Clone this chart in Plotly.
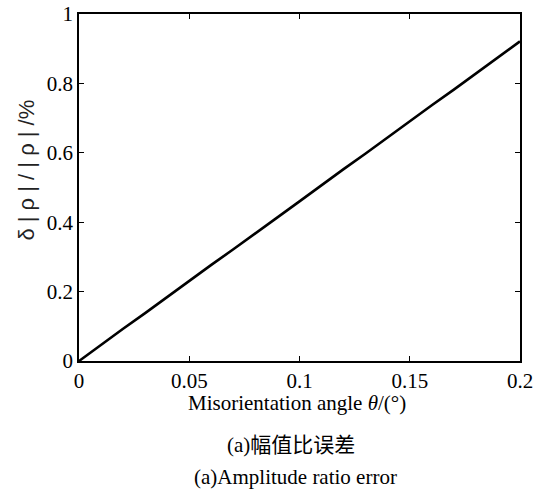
import plotly.graph_objects as go

angle = [0, 0.01, 0.02, 0.03, 0.04, 0.05, 0.06, 0.07, 0.08, 0.09, 0.10,
         0.11, 0.12, 0.13, 0.14, 0.15, 0.16, 0.17, 0.18, 0.19, 0.20]
error = [0, 0.047, 0.093, 0.138, 0.185, 0.230, 0.277, 0.322, 0.369, 0.414, 0.460,
         0.507, 0.553, 0.598, 0.645, 0.690, 0.737, 0.782, 0.829, 0.875, 0.921]
x_ticks = [0, 0.05, 0.1, 0.15, 0.2]
x_labels = ["0", "0.05", "0.1", "0.15", "0.2"]
y_ticks = [0, 0.2, 0.4, 0.6, 0.8, 1]
y_labels = ["0", "0.2", "0.4", "0.6", "0.8", "1"]

W, H = 539, 489
L, R, T, B = 78.5, 520, 14, 361
serif = "Liberation Serif, Times New Roman, serif"

fig = go.Figure()
fig.add_trace(go.Scatter(x=angle, y=error, mode="lines",
                         line=dict(color="black", width=2.6), showlegend=False))

axis_common = dict(showline=True, linecolor="black", linewidth=1.5, mirror="ticks",
                   ticks="inside", ticklen=5, tickwidth=1, tickcolor="black",
                   showgrid=False, zeroline=False, automargin=False,
                   tickfont=dict(family=serif, size=21, color="black"))
fig.update_xaxes(range=[0, 0.2], tickvals=x_ticks, ticktext=x_labels, **axis_common)
fig.update_yaxes(range=[0, 1], tickvals=y_ticks, ticktext=y_labels, **axis_common)

def px_x(p):
    return (p - L) / (R - L)

def px_y(p):
    return (B - p) / (B - T)

fig.add_annotation(x=px_x(25), y=px_y(170), xref="paper", yref="paper",
                   text="δ | ρ | / | ρ | /%", textangle=-90, showarrow=False,
                   font=dict(family="Liberation Sans, Arial, sans-serif", size=22, color="#222"),
                   xanchor="center", yanchor="middle")
fig.add_annotation(x=px_x(297), y=px_y(403), xref="paper", yref="paper",
                   text="Misorientation angle <i>θ</i>/(°)", showarrow=False,
                   font=dict(family=serif, size=21, color="black"),
                   xanchor="center", yanchor="middle")
fig.add_annotation(x=px_x(291), y=px_y(445), xref="paper", yref="paper",
                   text="(a)幅值比误差", showarrow=False,
                   font=dict(family="Liberation Serif, Noto Sans CJK SC, serif", size=21, color="black"),
                   xanchor="center", yanchor="middle")
fig.add_annotation(x=px_x(295), y=px_y(477), xref="paper", yref="paper",
                   text="(a)Amplitude ratio error", showarrow=False,
                   font=dict(family=serif, size=21, color="black"),
                   xanchor="center", yanchor="middle")

fig.update_layout(width=W, height=H,
                  margin=dict(l=L, r=W - R, t=T, b=H - B, pad=0, autoexpand=False),
                  plot_bgcolor="white", paper_bgcolor="white")
fig.write_html("out.html", config={"displayModeBar": False},
               post_script="document.body.style.margin='0';")
